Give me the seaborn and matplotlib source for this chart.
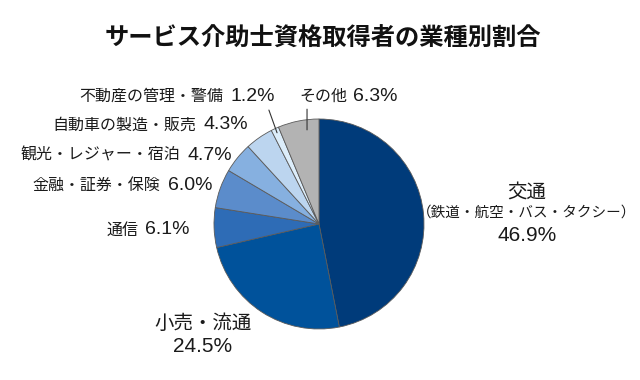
import matplotlib
matplotlib.use("Agg")
import matplotlib.pyplot as plt
import seaborn as sns
import numpy as np

sns.set_theme(style="white")
plt.rcParams['font.family'] = ['Noto Sans CJK JP', 'DejaVu Sans']

# data
labels = ['交通', '小売・流通', '通信', '金融・証券・保険',
          '観光・レジャー・宿泊', '自動車の製造・販売', '不動産の管理・警備', 'その他']
shares = [46.9, 24.5, 6.1, 6.0, 4.7, 4.3, 1.2, 6.3]
colors = ['#003b7a', '#00529b', '#2e6cb6', '#5b8ccb', '#86b0e0',
          '#bcd5ef', '#dcedfa', '#b3b3b3']
title = 'サービス介助士資格取得者の業種別割合'

fig = plt.figure(figsize=(6.4, 3.8), dpi=100)
# pie centre at (319, 224) px, radius 105 px
ax = fig.add_axes([(319 - 105) / 640, (380 - 224 - 105) / 380, 210 / 640, 210 / 380])
wedges, _ = ax.pie(shares, colors=colors, startangle=90, counterclock=False,
                   wedgeprops=dict(edgecolor='#5a5a5a', linewidth=0.6))
ax.set_xlim(-1, 1)
ax.set_ylim(-1, 1)
ax.set_aspect('equal')
ax.axis('off')

fig.text(0.505, 1 - 39 / 380, title, ha='center', va='center',
         fontsize=17.5, fontweight='bold', color='#111111')

num_font = ['Liberation Sans', 'Noto Sans CJK JP']
txt_col = '#1a1a1a'


def side_label(name, pct, x, y):
    # percent right-aligned at x, name placed just before it
    p = ax.text(x, y, pct, ha='right', va='center', fontsize=14,
                family=num_font, color=txt_col)
    ax.annotate(name, xy=(0, 0.5), xycoords=p, xytext=(-5, 0),
                textcoords='offset points', ha='right', va='center',
                fontsize=11.5, color=txt_col)
    return p


# left side labels
side_label(labels[2], '6.1%', -1.229, -0.057)
side_label(labels[3], '6.0%', -1.019, 0.371)
side_label(labels[4], '4.7%', -0.829, 0.657)
side_label(labels[5], '4.3%', -0.676, 0.943)
side_label(labels[6], '1.2%', -0.419, 1.219)

# その他 (name first, percent after)
n = ax.text(-0.19, 1.219, labels[7], ha='left', va='center', fontsize=11.5, color=txt_col)
ax.annotate('6.3%', xy=(1, 0.5), xycoords=n, xytext=(4, 0),
            textcoords='offset points', ha='left', va='center',
            fontsize=14, family=num_font, color=txt_col)

# leader lines
ang = np.deg2rad(90 - (sum(shares[:6]) + shares[6] / 2) * 3.6)
ax.annotate('', xy=(0.93 * np.cos(ang), 0.93 * np.sin(ang)), xytext=(-0.486, 1.11),
            arrowprops=dict(arrowstyle='-', color='#333333', lw=0.8))
ax.annotate('', xy=(-0.114, 0.87), xytext=(-0.114, 1.12),
            arrowprops=dict(arrowstyle='-', color='#333333', lw=0.8))

# 交通
ax.text(1.981, 0.305, labels[0], ha='center', va='center', fontsize=14, color=txt_col)
ax.text(1.981, 0.105, '（鉄道・航空・バス・タクシー）', ha='center', va='center',
        fontsize=10.5, color=txt_col)
ax.text(1.981, -0.114, '46.9%', ha='center', va='center', fontsize=15,
        family=num_font, color=txt_col)

# 小売・流通
ax.text(-1.105, -0.952, labels[1], ha='center', va='center', fontsize=14, color=txt_col)
ax.text(-1.105, -1.162, '24.5%', ha='center', va='center', fontsize=15,
        family=num_font, color=txt_col)

fig.savefig('out.png', dpi=100, facecolor='white')
